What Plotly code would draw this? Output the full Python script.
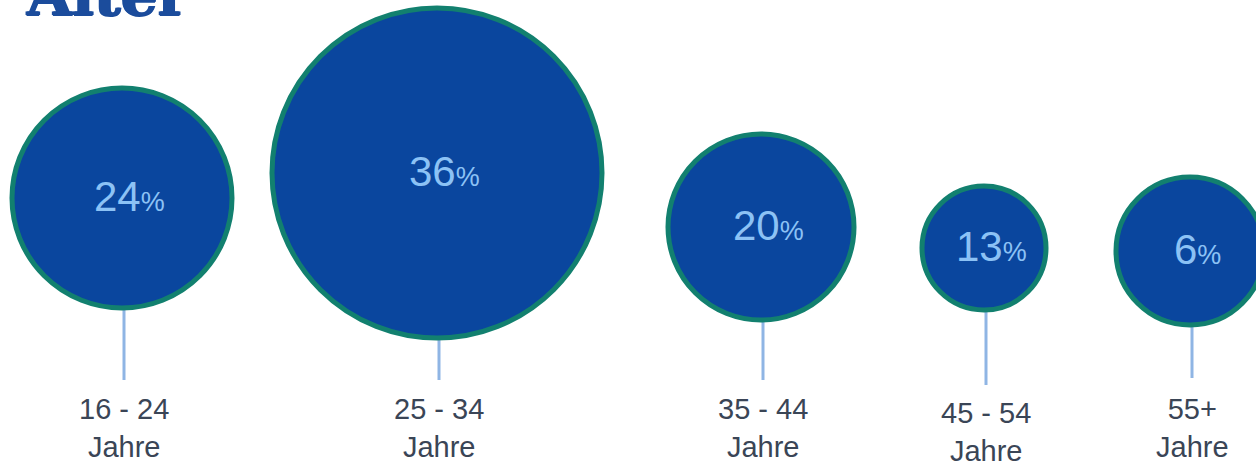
import plotly.graph_objects as go

# ---- data ----
categories = ["16 - 24<br>Jahre", "25 - 34<br>Jahre", "35 - 44<br>Jahre", "45 - 54<br>Jahre", "55+<br>Jahre"]
values = [24, 36, 20, 13, 6]
title_text = "Alter"

# ---- layout / style (pixel coordinates) ----
W, H = 1256, 466
x_centers = [122, 437, 761, 984, 1190]
y_centers = [198, 173, 227, 248, 251]
diameters = [220, 330, 186, 124, 148]
line_bottom = [380, 380, 380, 385, 378]
label_y = [428, 428, 428, 432, 428]

FILL = "#0a469e"
BORDER = "#12806f"
STEM = "#8fb5e4"
NUM = "#8cc2f5"
LABEL = "#3a4556"
TITLE = "#1b4c9c"

fig = go.Figure()

# stems
for xc, yc, d, yb in zip(x_centers, y_centers, diameters, line_bottom):
    fig.add_shape(type="line", x0=xc + 2, x1=xc + 2, y0=yc + d / 2, y1=yb,
                  line=dict(color=STEM, width=3), layer="below")

fig.add_trace(go.Scatter(
    x=x_centers, y=y_centers, mode="markers",
    marker=dict(size=diameters, color=FILL, line=dict(color=BORDER, width=5), opacity=1),
    hoverinfo="skip", showlegend=False))

for xc, yc, v in zip(x_centers, y_centers, values):
    fig.add_annotation(x=xc + 7, y=yc - 2, xref="x", yref="y",
                       text=f"{v}<span style='font-size:27px'>%</span>",
                       showarrow=False, font=dict(family="Liberation Sans, Arial", size=42, color=NUM),
                       xanchor="center", yanchor="middle")

for xc, ly, c in zip(x_centers, label_y, categories):
    fig.add_annotation(x=xc + 2, y=ly, xref="x", yref="y", text=c, showarrow=False,
                       font=dict(family="Liberation Sans, Arial", size=29, color=LABEL),
                       xanchor="center", yanchor="middle", align="center")

fig.add_annotation(x=24, y=31, xref="x", yref="y", text=f"<b>{title_text}</b>", showarrow=False,
                   font=dict(family="DejaVu Serif", size=58, color=TITLE,
                             shadow=f"1px 0 0 {TITLE}, -1px 0 0 {TITLE}, 0 1px 0 {TITLE}"),
                   xanchor="left", yanchor="bottom")

fig.update_layout(
    width=W, height=H, margin=dict(l=0, r=0, t=0, b=0),
    paper_bgcolor="white", plot_bgcolor="white",
    xaxis=dict(range=[0, W], visible=False, fixedrange=True),
    yaxis=dict(range=[H, 0], visible=False, fixedrange=True),
)
fig.write_html("out.html")
